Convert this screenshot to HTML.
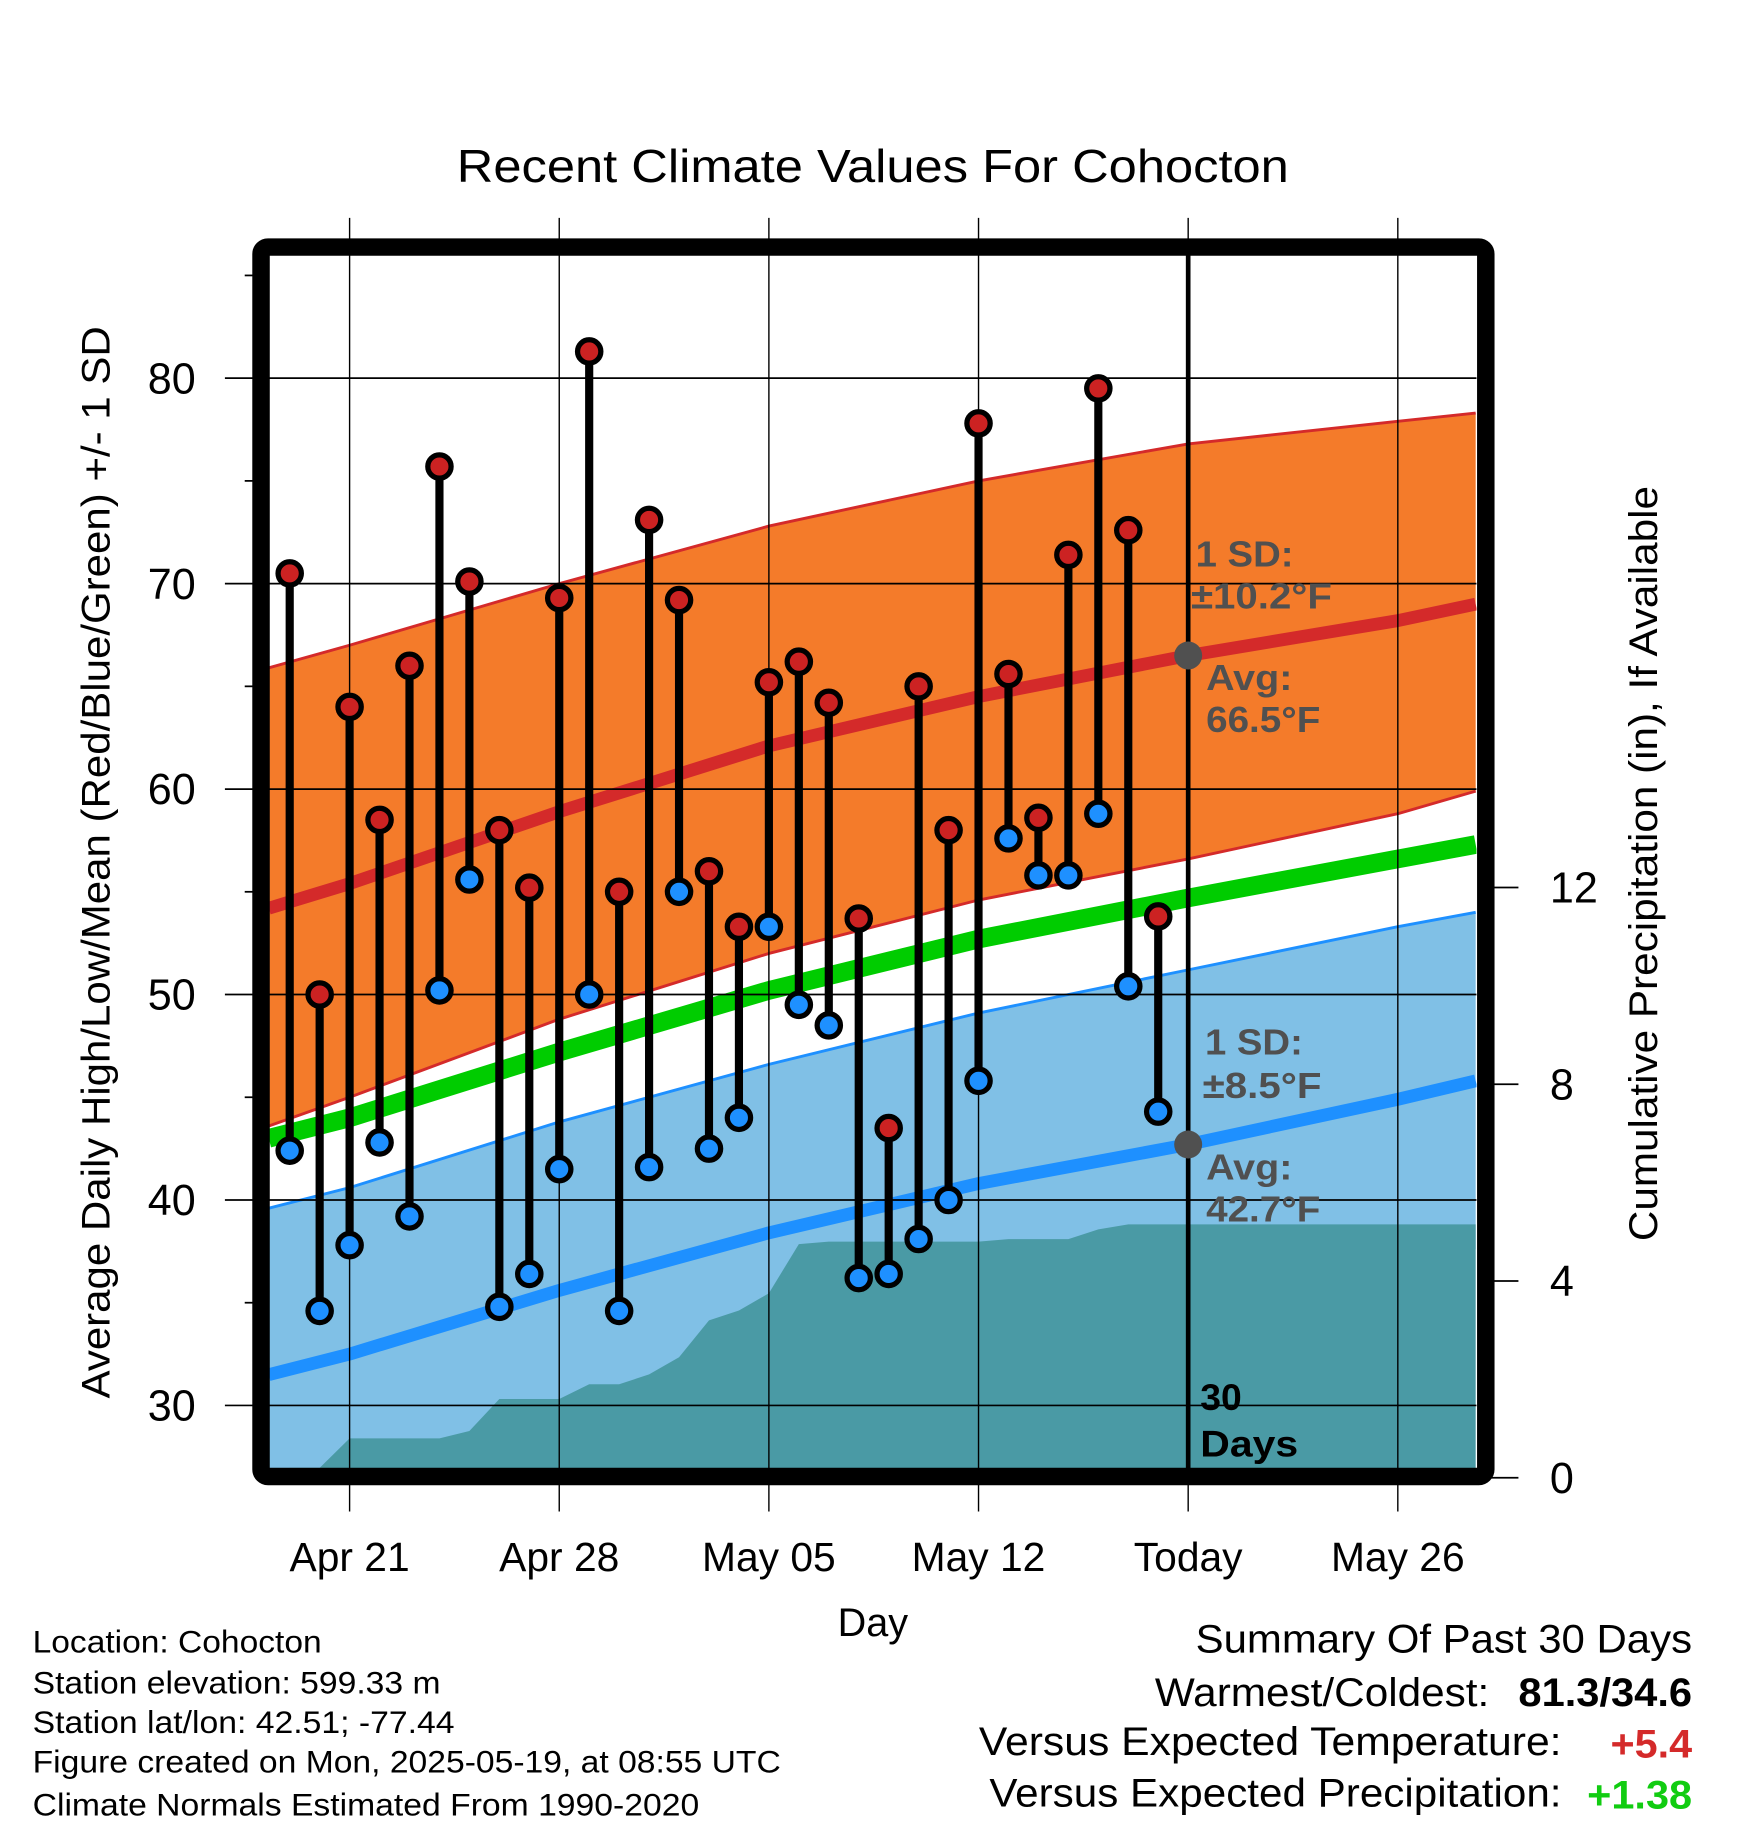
<!DOCTYPE html>
<html><head><meta charset="utf-8"><title>Recent Climate Values For Cohocton</title>
<style>html,body{margin:0;padding:0;background:#fff}svg{display:block}text{font-family:"Liberation Sans",sans-serif}</style>
</head><body>
<svg id="chart" width="1748" height="1828" viewBox="0 0 1500 1568.6" preserveAspectRatio="none" xmlns="http://www.w3.org/2000/svg">
<defs><clipPath id="plotclip"><rect x="231" y="219" width="1036" height="1041"/></clipPath></defs>
<g id="plot" clip-path="url(#plotclip)"></g>
<g id="overlay"></g>
<text x="392" y="156" font-size="40" textLength="714" lengthAdjust="spacingAndGlyphs">Recent Climate Values For Cohocton</text>
<text transform="translate(94,1200) rotate(-90)" font-size="34" textLength="920" lengthAdjust="spacingAndGlyphs">Average Daily High/Low/Mean (Red/Blue/Green) +/- 1 SD</text>
<text transform="translate(1422,1065) rotate(-90)" font-size="34" textLength="648" lengthAdjust="spacingAndGlyphs">Cumulative Precipitation (in), If Available</text>
<text x="749" y="1404" font-size="34" text-anchor="middle">Day</text>
<g font-size="27">
<text x="28" y="1418" textLength="248" lengthAdjust="spacingAndGlyphs">Location: Cohocton</text>
<text x="28" y="1453" textLength="350" lengthAdjust="spacingAndGlyphs">Station elevation: 599.33 m</text>
<text x="28" y="1487" textLength="362" lengthAdjust="spacingAndGlyphs">Station lat/lon: 42.51; -77.44</text>
<text x="28" y="1521" textLength="642" lengthAdjust="spacingAndGlyphs">Figure created on Mon, 2025-05-19, at 08:55 UTC</text>
<text x="28" y="1558" textLength="572" lengthAdjust="spacingAndGlyphs">Climate Normals Estimated From 1990-2020</text>
</g>
<g font-size="34">
<text x="1026" y="1418" textLength="426" lengthAdjust="spacingAndGlyphs">Summary Of Past 30 Days</text>
<text x="991" y="1464" textLength="287" lengthAdjust="spacingAndGlyphs">Warmest/Coldest:</text>
<text x="1303" y="1464" font-weight="bold" textLength="149" lengthAdjust="spacingAndGlyphs">81.3/34.6</text>
<text x="840" y="1506" textLength="500" lengthAdjust="spacingAndGlyphs">Versus Expected Temperature:</text>
<text x="1382" y="1508" font-weight="bold" fill="#d42a2a" textLength="70" lengthAdjust="spacingAndGlyphs">+5.4</text>
<text x="849" y="1550" textLength="491" lengthAdjust="spacingAndGlyphs">Versus Expected Precipitation:</text>
<text x="1362" y="1552" font-weight="bold" fill="#11cc11" textLength="90" lengthAdjust="spacingAndGlyphs">+1.38</text>
</g>
</svg>
<script>
// data
const days = [-2,-1,0,1,2,3,4,5,6,7,8,9,10,11,12,13,14,15,16,17,18,19,20,21,22,23,24,25,26,27];
const highs = [70.5,50,64,58.5,66,75.7,70.1,58,55.2,69.3,81.3,55,73.1,69.2,56,53.3,65.2,66.2,64.2,53.7,43.5,65,58,77.8,65.6,58.6,71.4,79.5,72.6,53.8];
const lows = [42.4,34.6,37.8,42.8,39.2,50.2,55.6,34.8,36.4,41.5,50,34.6,41.6,55,42.5,44,53.3,49.5,48.5,36.2,36.4,38.1,40,45.8,57.6,55.8,55.8,58.8,50.4,44.3];
const precipDays = [-2.7,-2,-1,0,3,4,5,7,8,9,10,11,12,13,14,15,16,21,22,24,25,26,27,37.6];
const precipCum = [0,0.2,0.2,0.8,0.8,0.95,1.6,1.6,1.9,1.9,2.1,2.45,3.2,3.4,3.75,4.75,4.8,4.8,4.85,4.85,5.05,5.15,5.15,5.15];
const normDays = [-2.7,0,7,14,21,28,35,37.6];
const normHigh = [54.2,55.4,58.9,62.1,64.5,66.5,68.2,69.0];
const normHighUp = [65.9,67.0,70.0,72.8,75.0,76.8,77.9,78.3];
const normHighDn = [43.6,45.0,48.8,52.0,54.6,56.6,58.8,59.9];
const normMean = [43.0,44.0,47.2,50.2,52.7,54.7,56.6,57.3];
const normLow = [31.5,32.5,35.6,38.4,40.8,42.7,44.9,45.8];
const normLowUp = [39.6,40.6,43.8,46.6,49.1,51.2,53.3,54.0];
const normLowDn = [23.4,24.5,27.4,30.2,32.5,34.2,36.5,37.6];
const xTickDays = [0,7,14,21,28,35];
const xTickLabels = ["Apr 21","Apr 28","May 05","May 12","Today","May 26"];
const yTicks = [30,40,50,60,70,80];
const yMinor = [35,45,55,65,75,85];
const pTicks = [0,4,8,12];
const todayDay = 28;

const NS="http://www.w3.org/2000/svg";
const X=d=>300+25.7*d;
const Y=t=>1206-(t-30)*17.63;
const P=p=>1268-42.2*p;
const plot=document.getElementById('plot'), ov=document.getElementById('overlay');
function mk(tag,attrs,parent){const e=document.createElementNS(NS,tag);for(const k in attrs)e.setAttribute(k,attrs[k]);parent.appendChild(e);return e;}
function pts(xs,ys,fy){return xs.map((d,i)=>X(d)+','+fy(ys[i])).join(' ');}

let e;
e=mk('polygon',{points:pts(normDays,normHighUp,Y)+' '+pts(normDays.slice().reverse(),normHighDn.slice().reverse(),Y),fill:'#f47b2a'},plot);


e=mk('polygon',{points:pts(normDays,normLowUp,Y)+' '+pts(normDays.slice().reverse(),normLowDn.slice().reverse(),Y),fill:'#80c0e6'},plot);


e=mk('polyline',{points:pts(normDays,normHighUp,Y),fill:'none',stroke:'#d42a2a','stroke-width':2.5},plot);


e=mk('polyline',{points:pts(normDays,normHighDn,Y),fill:'none',stroke:'#d42a2a','stroke-width':2.5},plot);


e=mk('polyline',{points:pts(normDays,normLowUp,Y),fill:'none',stroke:'#1e90ff','stroke-width':2.5},plot);


e=mk('polygon',{points:pts(precipDays,precipCum,P)+' '+X(37.6)+',1270 '+X(-2.7)+',1270',fill:'#4a9aa5'},plot);


e=mk('polyline',{points:pts(normDays,normHigh,Y),fill:'none',stroke:'#d42a2a','stroke-width':11,'stroke-linejoin':'round'},plot);


e=mk('polyline',{points:pts(normDays,normMean,Y),fill:'none',stroke:'#00cc00','stroke-width':16,'stroke-linejoin':'round'},plot);


e=mk('polyline',{points:pts(normDays,normLow,Y),fill:'none',stroke:'#1e90ff','stroke-width':11,'stroke-linejoin':'round'},plot);



// grid
yTicks.forEach(t=>{e=mk('line',{x1:193,x2:1267,y1:Y(t),y2:Y(t),stroke:'#000','stroke-width':1.5},ov);


e=mk('text',{x:168,y:Y(t)+13,'font-size':37,'text-anchor':'end'},ov);e.textContent=t;

});
yMinor.forEach(t=>{e=mk('line',{x1:210,x2:222,y1:Y(t),y2:Y(t),stroke:'#000','stroke-width':1.5},ov);

});
xTickDays.forEach((d,i)=>{e=mk('line',{x1:X(d),x2:X(d),y1:187,y2:1297,stroke:'#000','stroke-width':1.2},ov);


e=mk('text',{x:X(d),y:1348,'font-size':35,'text-anchor':'middle'},ov);e.textContent=xTickLabels[i];

});
pTicks.forEach(p=>{e=mk('line',{x1:1276,x2:1303,y1:P(p),y2:P(p),stroke:'#000','stroke-width':1.5},ov);


e=mk('text',{x:1330,y:P(p)+13,'font-size':37},ov);e.textContent=p;

});
e=mk('line',{x1:X(todayDay),x2:X(todayDay),y1:219,y2:1262,stroke:'#000','stroke-width':4},ov);



// stems & markers
days.forEach((d,i)=>{
 e=mk('line',{x1:X(d),x2:X(d),y1:Y(highs[i]),y2:Y(lows[i]),stroke:'#000','stroke-width':7},ov);
 
 
});
days.forEach((d,i)=>{
 e=mk('circle',{cx:X(d),cy:Y(highs[i]),r:10,fill:'#cc2222',stroke:'#000','stroke-width':4.5},ov);
 
 
 e=mk('circle',{cx:X(d),cy:Y(lows[i]),r:10,fill:'#1e90ff',stroke:'#000','stroke-width':4.5},ov);
 
 
});

// annotations
const ti=normDays.indexOf(28);
e=mk('circle',{cx:X(todayDay),cy:Y(normHigh[ti]),r:12,fill:'#505050'},ov);


e=mk('circle',{cx:X(todayDay),cy:Y(normLow[ti]),r:12,fill:'#505050'},ov);


const ann=[[1026,486,'1 SD:',84],[1022,522,'±10.2°F',121],[1035,592,'Avg:',74],[1035,628,'66.5°F',98],[1034,905,'1 SD:',84],[1032,942,'±8.5°F',102],[1035,1012,'Avg:',74],[1035,1048,'42.7°F',98]];
ann.forEach(a=>{e=mk('text',{x:a[0],y:a[1],'font-size':31,'font-weight':'bold',fill:'#505050',textLength:a[3],lengthAdjust:'spacingAndGlyphs'},ov);e.textContent=a[2];

});
e=mk('text',{x:1030,y:1210,'font-size':32,'font-weight':'bold'},ov);e.textContent='30';


e=mk('text',{x:1030,y:1250,'font-size':32,'font-weight':'bold',textLength:84,lengthAdjust:'spacingAndGlyphs'},ov);e.textContent='Days';



e=mk('rect',{x:224,y:212,width:1051,height:1055,rx:6,fill:'none',stroke:'#000','stroke-width':15},ov);


</script>
</body></html>
